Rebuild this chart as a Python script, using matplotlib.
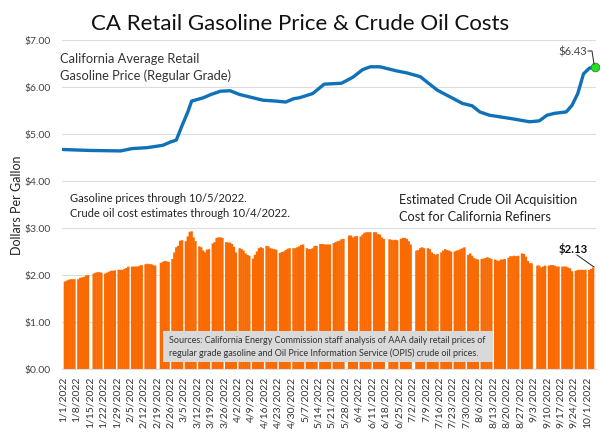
"""
CA retail gasoline price and crude oil acquisition cost, 2022.
"""

from datetime import date, timedelta

import matplotlib
matplotlib.use('Agg')
import matplotlib.dates as mdates
import matplotlib.pyplot as plt
from matplotlib.patches import Rectangle

# ── Data ──────────────────────────────────────────────────────
gas_dates = ['1/1', '1/15', '1/31', '2/6', '2/14', '2/22', '2/26', '3/1', '3/4', '3/7',
             '3/9', '3/15', '3/19', '3/24', '3/29', '4/3', '4/10', '4/15', '4/22', '4/27',
             '5/1', '5/4', '5/11', '5/17', '5/26', '6/1', '6/6', '6/10', '6/15', '6/24',
             '6/29', '7/6', '7/10', '7/15', '7/22', '7/28', '8/2', '8/6', '8/11', '8/22',
             '9/1', '9/6', '9/10', '9/14', '9/20', '9/23', '9/26', '9/29', '10/2', '10/5']
gas_prices = [4.67, 4.65, 4.64, 4.69, 4.71, 4.76, 4.83, 4.87, 5.18, 5.47,
              5.70, 5.77, 5.84, 5.91, 5.92, 5.84, 5.77, 5.72, 5.70, 5.68,
              5.75, 5.77, 5.86, 6.06, 6.08, 6.21, 6.37, 6.43, 6.43, 6.34,
              6.30, 6.22, 6.09, 5.93, 5.78, 5.65, 5.60, 5.47, 5.40, 5.33,
              5.26, 5.28, 5.40, 5.44, 5.47, 5.61, 5.86, 6.28, 6.40, 6.43]

crude_block_starts = ['1/2', '1/9', '1/17', '1/23', '1/30', '2/6', '2/13', '2/21', '2/27',
                      '3/6', '3/13', '3/20', '3/27', '4/3', '4/10', '4/17', '4/24', '5/1',
                      '5/8', '5/15', '5/22', '5/30', '6/5', '6/12', '6/20', '6/26', '7/4',
                      '7/10', '7/17', '7/24', '7/31', '8/7', '8/14', '8/21', '8/28', '9/5',
                      '9/11', '9/18', '9/25', '10/2']
crude_blocks = [
    [1.86, 1.88, 1.90, 1.91, 1.91, 1.91],
    [1.91, 1.94, 1.95, 1.96, 1.99, 2.00],
    [2.03, 2.05, 2.06, 2.06, 2.05],
    [2.03, 2.05, 2.07, 2.09, 2.09, 2.10],
    [2.11, 2.11, 2.11, 2.13, 2.15, 2.18],
    [2.18, 2.18, 2.18, 2.18, 2.20, 2.21],
    [2.23, 2.24, 2.23, 2.23, 2.21, 2.20],
    [2.26, 2.28, 2.30, 2.29, 2.28],
    [2.34, 2.48, 2.59, 2.62, 2.73, 2.74],
    [2.72, 2.82, 2.92, 2.93, 2.80, 2.72],
    [2.61, 2.59, 2.52, 2.48, 2.54, 2.55],
    [2.67, 2.70, 2.79, 2.80, 2.80, 2.79],
    [2.70, 2.69, 2.69, 2.66, 2.60, 2.48],
    [2.57, 2.55, 2.52, 2.46, 2.43, 2.41],
    [2.35, 2.43, 2.50, 2.57, 2.59, 2.57],
    [2.62, 2.61, 2.57, 2.56, 2.55, 2.54],
    [2.47, 2.49, 2.50, 2.53, 2.56, 2.57],
    [2.57, 2.57, 2.59, 2.61, 2.64, 2.65],
    [2.57, 2.55, 2.55, 2.57, 2.62, 2.62],
    [2.66, 2.66, 2.65, 2.65, 2.65, 2.65],
    [2.68, 2.70, 2.72, 2.73, 2.76, 2.77],
    [2.84, 2.84, 2.80, 2.82, 2.83],
    [2.82, 2.86, 2.90, 2.91, 2.91, 2.91],
    [2.91, 2.91, 2.87, 2.86, 2.80, 2.77],
    [2.76, 2.75, 2.74, 2.75, 2.74],
    [2.77, 2.79, 2.79, 2.77, 2.72, 2.65],
    [2.52, 2.53, 2.57, 2.59, 2.57],
    [2.57, 2.55, 2.48, 2.45, 2.43, 2.45],
    [2.48, 2.52, 2.55, 2.53, 2.52, 2.50],
    [2.50, 2.52, 2.53, 2.55, 2.57, 2.59],
    [2.43, 2.46, 2.41, 2.36, 2.34, 2.33],
    [2.34, 2.35, 2.36, 2.38, 2.36, 2.34],
    [2.33, 2.31, 2.30, 2.33, 2.33, 2.34],
    [2.37, 2.40, 2.40, 2.41, 2.40, 2.41],
    [2.46, 2.45, 2.39, 2.30, 2.25, 2.25],
    [2.20, 2.20, 2.16, 2.18, 2.20],
    [2.20, 2.21, 2.21, 2.20, 2.18, 2.18],
    [2.18, 2.18, 2.18, 2.16, 2.14, 2.08],
    [2.09, 2.11, 2.11, 2.11, 2.11, 2.11],
    [2.11, 2.13, 2.16],
]

y_ticks = [0, 1, 2, 3, 4, 5, 6, 7]
tick_start = date(2022, 1, 1)
tick_count = 40


def parse_day(text):
    month, day = text.split('/')
    return date(2022, int(month), int(day))


gas_x = [parse_day(d) for d in gas_dates]

crude_x = []
crude_y = []
for start, block in zip(crude_block_starts, crude_blocks):
    first = parse_day(start)
    for i, value in enumerate(block):
        crude_x.append(first + timedelta(days=i))
        crude_y.append(value)

tick_dates = [tick_start + timedelta(days=7 * i) for i in range(tick_count)]
tick_labels = [f'{d.month}/{d.day}/{d.year}' for d in tick_dates]

# ── Figure ────────────────────────────────────────────────────
plt.rcParams['font.family'] = ['Lato', 'DejaVu Sans']
plt.rcParams['text.parse_math'] = False

W, H = 600, 435
fig = plt.figure(figsize=(W / 100, H / 100), dpi=100, facecolor='white')
ax = fig.add_axes([62 / W, 1 - 370 / H, (596 - 62) / W, (370 - 41) / H])

bars = ax.bar(crude_x, crude_y, width=1.25, color='#f96a02', linewidth=0, zorder=2)
for bar in bars:
    bar.set_snap(False)
ax.plot(gas_x, gas_prices, color='#0f71b8', lw=2.4, zorder=3, solid_capstyle='round')
ax.plot(gas_x[-1], gas_prices[-1], 'o', ms=6.2, mfc='#22e022', mec='#2a8a2a', mew=0.6,
        zorder=4, clip_on=False)

ax.set_xlim(mdates.date2num(date(2022, 1, 1)) - 0.5, mdates.date2num(date(2022, 10, 5)) + 0.5)
ax.set_ylim(0, 7)
ax.set_yticks(y_ticks)
ax.set_yticklabels([f'${v:.2f}' for v in y_ticks], fontsize=7.5, color='#444444')
ax.set_xticks(tick_dates)
ax.set_xticklabels(tick_labels, rotation=90, fontsize=7.5, color='#333333')
ax.tick_params(axis='y', length=0, pad=8)
ax.tick_params(axis='x', length=0, pad=5)
ax.grid(axis='y', color='#dddddd', lw=0.8, zorder=0)
ax.set_axisbelow(True)
for side in ['top', 'right', 'left']:
    ax.spines[side].set_visible(False)
ax.spines['bottom'].set_color('#dddddd')


def px_text(x, y, text, **kw):
    return fig.text(x / W, 1 - y / H, text, **kw)


px_text(17, 205, 'Dollars Per Gallon', fontsize=9, rotation=90, ha='center', va='center', color='#222222')
px_text(300, 24, 'CA Retail Gasoline Price & Crude Oil Costs', fontsize=16, ha='center', va='center', color='#111111')
px_text(60, 59, 'California Average Retail', fontsize=9.3, va='center', color='#333333')
px_text(60, 76, 'Gasoline Price (Regular Grade)', fontsize=9.3, va='center', color='#333333')
px_text(70, 199, 'Gasoline prices through 10/5/2022.', fontsize=8, va='center', color='#222222')
px_text(70, 214, 'Crude oil cost estimates through 10/4/2022.', fontsize=8, va='center', color='#222222')
px_text(399, 200, 'Estimated Crude Oil Acquisition', fontsize=9.2, va='center', color='#222222')
px_text(399, 217, 'Cost for California Refiners', fontsize=9.2, va='center', color='#222222')

fig.add_artist(Rectangle((163 / W, 1 - 363 / H), 330 / W, 31 / H, transform=fig.transFigure,
                         fc='#d9d9d9', ec='none', zorder=5))
px_text(169, 341, 'Sources: California Energy Commission staff analysis of AAA daily retail prices of',
        fontsize=6.5, va='center', color='#333333', zorder=6)
px_text(169, 353, 'regular grade gasoline and Oil Price Information Service (OPIS) crude oil prices.',
        fontsize=6.5, va='center', color='#333333', zorder=6)

px_text(558, 52, '$6.43', fontsize=8, va='center', color='#444444')
fig.add_artist(plt.Line2D([588 / W, 592 / W, 594 / W], [1 - 52 / H, 1 - 52 / H, 1 - 65 / H],
                          color='#222222', lw=0.7))

px_text(559, 249, '$2.13', fontsize=8.2, va='center', fontweight='bold', color='#111111')
fig.add_artist(plt.Line2D([577 / W, 594 / W], [1 - 256 / H, 1 - 268 / H], color='#222222', lw=0.7))

fig.savefig('out.png', dpi=100, facecolor='white')
plt.close()
